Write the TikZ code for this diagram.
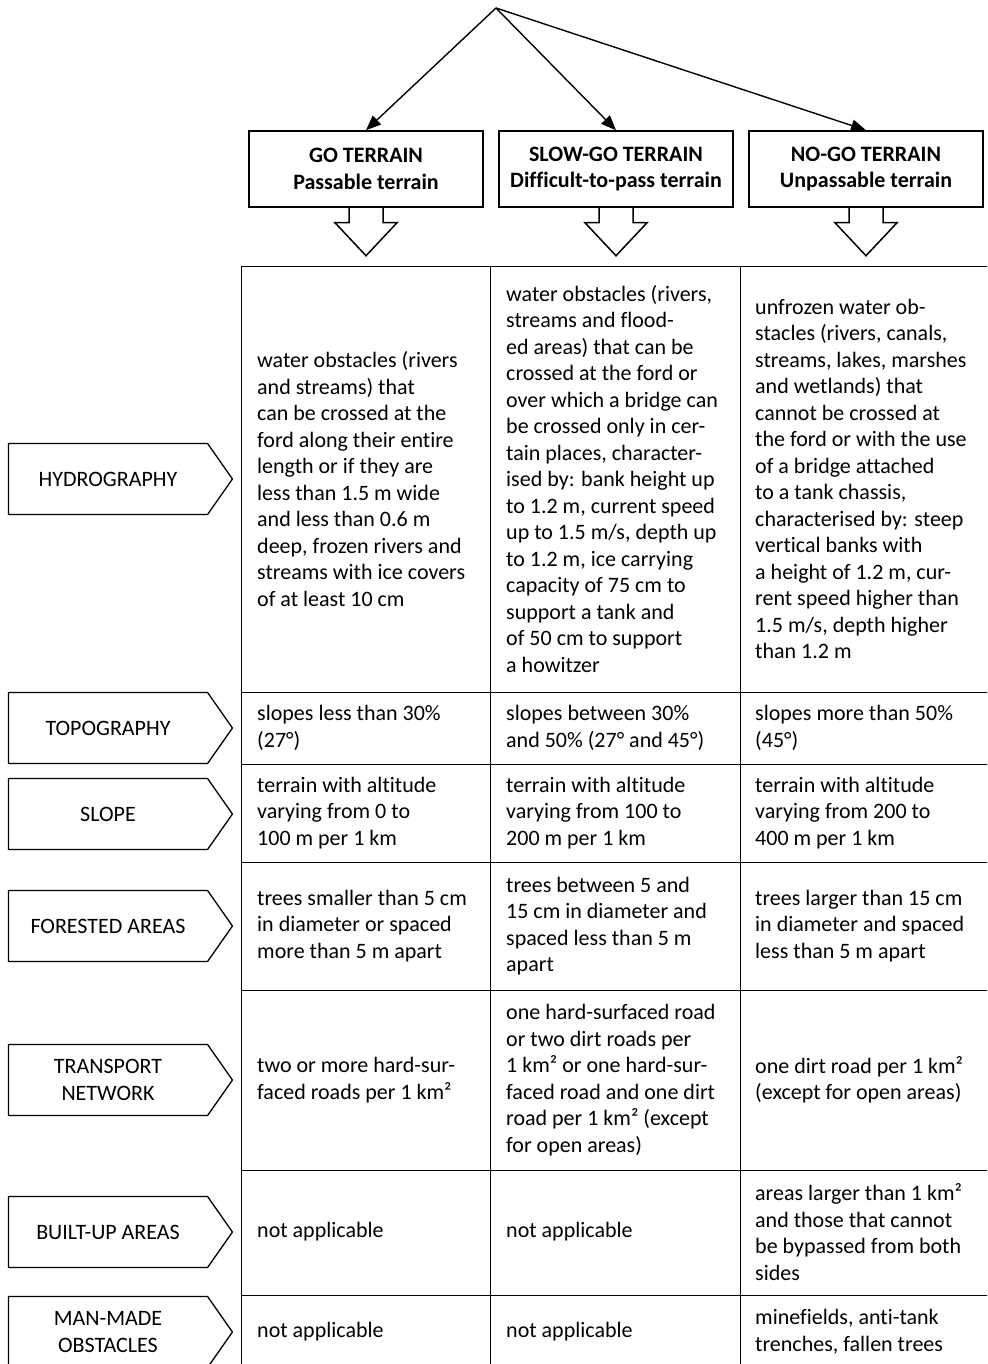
\documentclass[tikz,border=0pt]{standalone}
\usepackage{fontspec}
\setmainfont{Carlito}[Ligatures=CommonOff]
\usetikzlibrary{positioning, arrows.meta, shapes.symbols}

\begin{document}
\begin{tikzpicture}[x=1pt,y=-1pt,
            every node/.style={font=\fontsize{22}{26.5}\selectfont},
            head/.style={draw,line width=1.5pt,
                        minimum width=234pt,minimum height=76pt,
                        align=center,font=\fontsize{22}{26.5}\selectfont\bfseries},
            topic/.style={draw,line width=1.3pt,shape=signal,signal to=east,
                        signal pointer angle=110,inner sep=0pt,
                        minimum width=224pt,minimum height=71pt,align=center},
            cell/.style={anchor=west,align=left,inner sep=0pt},
            grid/.style={line width=0.9pt},
            blockarrow/.style={line width=1.5pt},
            arrow/.style={-{Triangle[length=15pt,width=12pt]},line width=1.4pt}]
        \useasboundingbox (0,0) rectangle (987,1364);
        \clip (0,0) rectangle (987,1364);
        % terrain classes
        \node[head] (go) at (366,169) {GO TERRAIN\\Passable terrain};
        \node[head,right=14.5pt of go] (slow) {SLOW-GO TERRAIN\\Difficult-to-pass terrain};
        \node[head,right=14.5pt of slow] (nogo) {NO-GO TERRAIN\\Unpassable terrain};
        \coordinate (root) at (496,8);
        \foreach \b in {go,slow,nogo} {
            \draw[arrow] (root) -- (\b.north);
            \draw[blockarrow] ([xshift=-17pt]\b.south) -- ++(0,15) -- ++(-14,0)
                -- ++(31,33) -- ++(31,-33) -- ++(-14,0) -- ++(0,-15);
        }
        % table grid
        \foreach \y in {266,692,764,862,990,1170,1295}
            \draw[grid] (241,\y) -- (990,\y);
        \foreach \x in {241,490,740,990}
            \draw[grid] (\x,266) -- (\x,1372);
        % factors
        \node[topic] (hydro) at (108,479) {HYDROGRAPHY};
        \node[topic] (topo) at (108,728) {TOPOGRAPHY};
        \node[topic] (slope) at (108,814) {SLOPE};
        \node[topic] (forest) at (108,926) {FORESTED AREAS};
        \node[topic] (transport) at (108,1080) {TRANSPORT\\NETWORK};
        \node[topic] (builtup) at (108,1232) {BUILT-UP AREAS};
        \node[topic] (manmade) at (108,1332) {MAN-MADE\\OBSTACLES};
        % hydrography
        \node[cell] (hydgo) at (257,479) {water obstacles (rivers\\and streams) that\\can be crossed at the\\ford along their entire\\length or if they are\\less than 1.5 m wide\\and less than 0.6 m\\deep, frozen rivers and\\streams with ice covers\\of at least 10 cm};
        \node[cell] (hydslow) at (506,479) {water obstacles (rivers,\\streams and flood-\\ed areas) that can be\\crossed at the ford or\\over which a bridge can\\be crossed only in cer-\\tain places, character-\\ised by: bank height up\\to 1.2 m, current speed\\up to 1.5 m/s, depth up\\to 1.2 m, ice carrying\\capacity of 75 cm to\\support a tank and\\of 50 cm to support\\a howitzer};
        \node[cell] (hydnogo) at (755,479) {unfrozen water ob-\\stacles (rivers, canals,\\streams, lakes, marshes\\and wetlands) that\\cannot be crossed at\\the ford or with the use\\of a bridge attached\\to a tank chassis,\\characterised by: steep\\vertical banks with\\a height of 1.2 m, cur-\\rent speed higher than\\1.5 m/s, depth higher\\than 1.2 m};
        % topography
        \node[cell] (topgo) at (257,728) {slopes less than 30\%\\(27°)};
        \node[cell] (topslow) at (506,728) {slopes between 30\%\\and 50\% (27° and 45°)};
        \node[cell] (topnogo) at (755,728) {slopes more than 50\%\\(45°)};
        % slope
        \node[cell] (slpgo) at (257,813) {terrain with altitude\\varying from 0 to\\100 m per 1 km};
        \node[cell] (slpslow) at (506,813) {terrain with altitude\\varying from 100 to\\200 m per 1 km};
        \node[cell] (slpnogo) at (755,813) {terrain with altitude\\varying from 200 to\\400 m per 1 km};
        % forested areas
        \node[cell] (forgo) at (257,926) {trees smaller than 5 cm\\in diameter or spaced\\more than 5 m apart};
        \node[cell] (forslow) at (506,926) {trees between 5 and\\15 cm in diameter and\\spaced less than 5 m\\apart};
        \node[cell] (fornogo) at (755,926) {trees larger than 15 cm\\in diameter and spaced\\less than 5 m apart};
        % transport network
        \node[cell] (trago) at (257,1080) {two or more hard-sur-\\faced roads per 1 km²};
        \node[cell] (traslow) at (506,1080) {one hard-surfaced road\\or two dirt roads per\\1 km² or one hard-sur-\\faced road and one dirt\\road per 1 km² (except\\for open areas)};
        \node[cell] (tranogo) at (755,1080) {one dirt road per 1 km²\\(except for open areas)};
        % built-up areas
        \node[cell] (bldgo) at (257,1232) {not applicable};
        \node[cell] (bldslow) at (506,1232) {not applicable};
        \node[cell] (bldnogo) at (755,1232) {areas larger than 1 km²\\and those that cannot\\be bypassed from both\\sides};
        % man-made obstacles
        \node[cell] (mango) at (257,1332) {not applicable};
        \node[cell] (manslow) at (506,1332) {not applicable};
        \node[cell] (mannogo) at (755,1332) {minefields, anti-tank\\trenches, fallen trees};
        \end{tikzpicture}
\end{document}
